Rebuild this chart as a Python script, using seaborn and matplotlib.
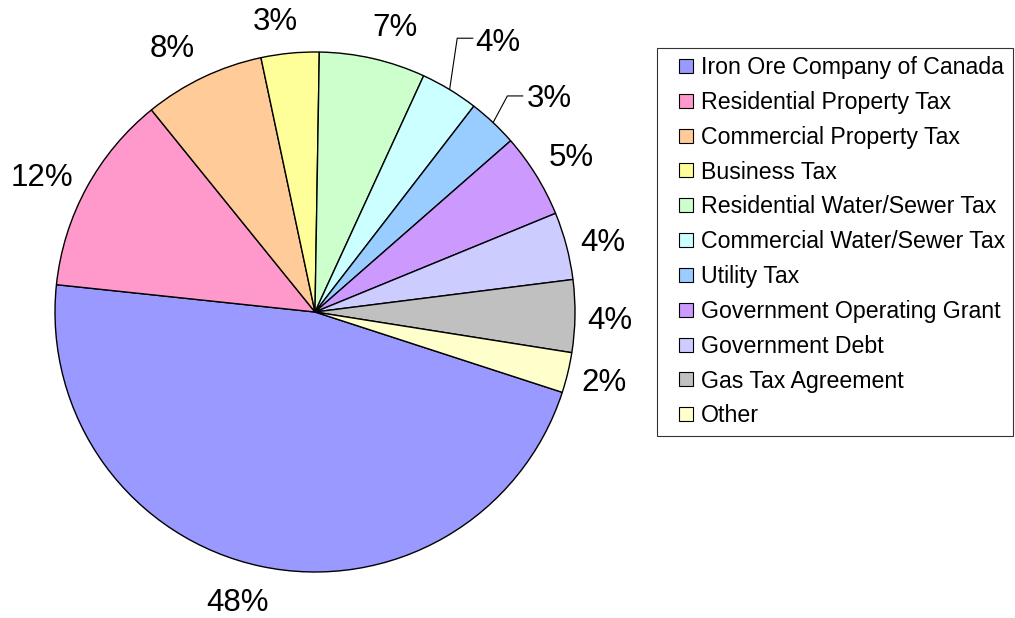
import numpy as np
import matplotlib
matplotlib.use("Agg")
import matplotlib.pyplot as plt
from matplotlib.lines import Line2D
import seaborn as sns

# ---- data ----
categories = [
    "Iron Ore Company of Canada",
    "Residential Property Tax",
    "Commercial Property Tax",
    "Business Tax",
    "Residential Water/Sewer Tax",
    "Commercial Water/Sewer Tax",
    "Utility Tax",
    "Government Operating Grant",
    "Government Debt",
    "Gas Tax Agreement",
    "Other",
]
shares = [46.7, 12.5, 7.5, 3.6, 6.6, 3.6, 3.1, 5.25, 4.2, 4.5, 2.5]
pct_labels = ["48%", "12%", "8%", "3%", "7%", "4%", "3%", "5%", "4%", "4%", "2%"]
colors = ["#9999FF", "#FF99CC", "#FFCC99", "#FFFF99", "#CCFFCC", "#CCFFFF",
          "#99CCFF", "#CC99FF", "#CCCCFF", "#C0C0C0", "#FFFFCC"]

# ---- style ----
sns.set_theme(style="white")
plt.rcParams["font.family"] = ["Liberation Sans", "DejaVu Sans"]
plt.rcParams["text.color"] = "black"
palette = sns.color_palette(colors)

# label nudges in pixels (dx right, dy down) relative to radial anchor
label_nudge = [(-15, -1), (-10, 9), (-14, 7), (-11, 8), (14, 8), (-2, 2),
               (0, 0), (2, 3), (-1, 7), (-4, 4), (-2, 1)]

W, H = 1015, 618
fig = plt.figure(figsize=(W / 100, H / 100), dpi=100)
fig.patch.set_facecolor("white")

R = 260.0
cx, cy = 315.0, 618 - 312.0
half = 1.2
ax = fig.add_axes([(cx - half * R) / W, (cy - half * R) / H,
                   2 * half * R / W, 2 * half * R / H])

wedges, _ = ax.pie(shares, colors=palette, startangle=-18, counterclock=False,
                   radius=1.0,
                   wedgeprops=dict(edgecolor="black", linewidth=1.0))
ax.set_xlim(-half, half)
ax.set_ylim(-half, half)
ax.set_aspect("equal")
ax.axis("off")

# leader-line labels (elbow point, end point) in axis units
leaders = {5: ((0.547, 1.053), (0.609, 1.053)),
           6: ((0.740, 0.831), (0.801, 0.831))}

px = 72.0 / 100.0  # points per pixel
for i, w in enumerate(wedges):
    mid = np.deg2rad((w.theta1 + w.theta2) / 2)
    c, s = np.cos(mid), np.sin(mid)
    dx, dy = label_nudge[i]
    if i in leaders:
        (ex, ey), (fx, fy) = leaders[i]
        ax.plot([c * 1.0, ex, fx], [s * 1.0, ey, fy], color="black",
                lw=0.8, solid_capstyle="butt", clip_on=False)
        ax.annotate(pct_labels[i], (fx, fy),
                    xytext=((4 + dx) * px, (-3 - dy) * px),
                    textcoords="offset points", ha="left", va="center",
                    fontsize=22.5, color="black")
    else:
        ax.annotate(pct_labels[i], (1.15 * c, 1.15 * s),
                    xytext=(dx * px, -dy * px), textcoords="offset points",
                    ha="center", va="center", fontsize=22.5, color="black")

handles = [Line2D([], [], linestyle="none", marker="s", markersize=10,
                  markerfacecolor=col, markeredgecolor="black",
                  markeredgewidth=0.8) for col in colors]
leg = fig.legend(handles, categories, loc="upper left",
                 bbox_to_anchor=(657 / W, 1 - 48 / H), borderaxespad=0,
                 fontsize=16.7, frameon=True, fancybox=False, shadow=False,
                 handlelength=1.8, handleheight=0.7, handletextpad=-0.25,
                 labelspacing=0.51, borderpad=0.35, labelcolor="black")
fr = leg.get_frame()
fr.set_edgecolor("black")
fr.set_linewidth(0.8)
fr.set_facecolor("white")

fig.savefig("out.png", dpi=100, facecolor="white")
